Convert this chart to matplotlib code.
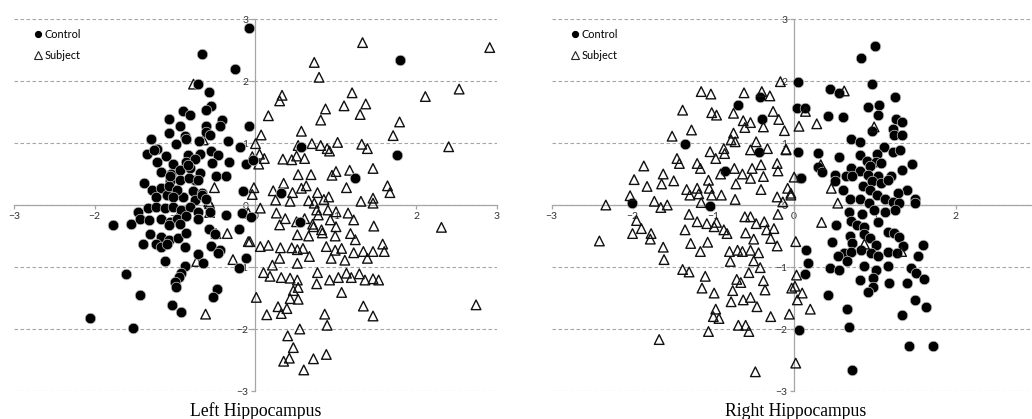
import numpy as np
import matplotlib
matplotlib.use("Agg")
import matplotlib.pyplot as plt
from matplotlib.lines import Line2D

# z-scores (x, y) per group, left hippocampus
left_control = np.array([
    (-0.08, 2.85), (-0.66, 2.43), (-0.25, 2.20), (-0.71, 1.96), (-0.58, 1.83), (-0.90, 1.52),
    (-0.81, 1.45), (-0.55, 1.60), (-0.62, 1.54), (-1.07, 1.38), (-0.42, 1.37), (-0.44, 1.27),
    (-0.08, 1.27), (-0.94, 1.27), (-0.62, 1.27), (-1.08, 1.16), (-0.61, 1.17), (-0.88, 1.11),
    (-0.56, 1.13), (-1.30, 1.06), (-0.99, 0.98), (-0.86, 1.06), (-0.70, 1.04), (-0.34, 1.04),
    (-0.19, 0.94), (-1.22, 0.91), (-1.35, 0.82), (-1.26, 0.89), (-1.11, 0.79), (-0.84, 0.81),
    (-0.69, 0.82), (-0.55, 0.87), (-0.46, 0.80), (-1.22, 0.70), (-1.02, 0.66), (-0.86, 0.70),
    (-0.75, 0.74), (-0.54, 0.67), (-0.33, 0.69), (-0.12, 0.66), (-0.03, 0.73), (-1.17, 0.54),
    (-1.05, 0.50), (-0.94, 0.56), (-0.81, 0.59), (-0.69, 0.51), (-0.49, 0.46), (-0.37, 0.47),
    (-1.38, 0.36), (-1.06, 0.38), (-0.94, 0.41), (-0.75, 0.40), (-1.29, 0.24), (-1.17, 0.27),
    (-1.02, 0.25), (-0.78, 0.22), (-0.67, 0.19), (-0.16, 0.22), (-1.23, 0.13), (-1.10, 0.16),
    (-0.90, 0.13), (-0.75, 0.08), (-1.08, 0.30), (-0.98, 0.24), (-0.67, 0.16), (-1.02, 0.13),
    (-1.06, 0.47), (-0.84, 0.65), (-0.82, 0.43), (-0.71, 0.41), (-0.62, 0.09),
    (-1.46, -0.11), (-1.33, -0.05), (-1.23, -0.03), (-1.13, -0.05), (-1.02, -0.03), (-0.92, -0.08),
    (-0.81, -0.03), (-0.71, -0.11), (-0.57, -0.12), (-0.37, -0.16), (-0.17, -0.13), (-0.05, -0.19),
    (-1.77, -0.32), (-1.55, -0.30), (-1.43, -0.22), (-1.32, -0.24), (-1.17, -0.22), (-1.06, -0.27),
    (-0.98, -0.22), (-0.86, -0.18), (-0.72, -0.22), (-1.08, -0.32), (-0.94, -0.30), (-0.58, -0.38),
    (-0.50, -0.46), (-0.21, -0.39), (-1.31, -0.47), (-1.18, -0.51), (-1.08, -0.56), (-0.96, -0.54),
    (-0.86, -0.45), (-1.40, -0.63), (-1.23, -0.63), (-1.17, -0.68), (-1.10, -0.63), (-0.88, -0.67),
    (-0.55, -0.66), (-0.44, -0.73), (-0.47, -0.77), (-0.71, -0.79), (-1.12, -0.90), (-0.65, -0.94),
    (-0.12, -0.86), (-0.21, -1.02), (-1.61, -1.11), (-0.88, -0.99), (-0.92, -1.10), (-0.95, -1.16),
    (-1.00, -1.24), (-0.99, -1.33), (-1.43, -1.45), (-0.48, -1.36), (-0.53, -1.48), (-1.04, -1.61),
    (-0.93, -1.73), (-2.06, -1.82), (-1.52, -1.98),
    (1.80, 2.34), (0.57, 0.94), (1.76, 0.81), (1.23, 0.43), (0.32, 0.20), (0.55, -0.28),
])

left_subject = np.array([
    (1.33, 2.62), (2.91, 2.54), (0.73, 2.30), (0.79, 2.06), (2.53, 1.87), (2.11, 1.75),
    (1.20, 1.81), (0.33, 1.77), (0.30, 1.68), (1.37, 1.63), (0.87, 1.55), (1.10, 1.60),
    (1.30, 1.46), (0.16, 1.44), (0.81, 1.37), (1.79, 1.34), (0.57, 1.19), (0.07, 1.13),
    (1.71, 1.12), (0.00, 0.99), (2.40, 0.94), (0.70, 0.99), (0.81, 0.96), (0.89, 0.91),
    (0.92, 0.87), (1.02, 1.01), (1.32, 0.98), (1.39, 0.91), (0.53, 0.96), (0.05, 0.82),
    (0.11, 0.75), (0.04, 0.66), (0.34, 0.74), (0.45, 0.73), (0.51, 0.79), (0.61, 0.75),
    (1.46, 0.59), (1.17, 0.56), (1.00, 0.54), (0.95, 0.48), (0.53, 0.49), (0.69, 0.49),
    (0.35, 0.35), (0.63, 0.31), (0.57, 0.27), (1.13, 0.28), (1.64, 0.31), (1.67, 0.20),
    (-0.02, 0.28), (-0.04, 0.17), (0.22, 0.23), (0.46, 0.20), (0.77, 0.20), (0.91, 0.13),
    (0.85, 0.09), (0.25, 0.08), (0.43, 0.06), (0.66, 0.07), (0.73, 0.03), (1.31, 0.06),
    (1.46, 0.11), (1.46, 0.03),
    (0.06, -0.05), (0.26, -0.13), (0.37, -0.22), (0.61, -0.22), (0.76, -0.08), (0.78, -0.16),
    (0.90, -0.08), (1.00, -0.11), (1.15, -0.13), (1.22, -0.24), (1.47, -0.34), (2.31, -0.36),
    (0.30, -0.32), (0.51, -0.27), (0.71, -0.31), (0.82, -0.40), (1.00, -0.35), (1.18, -0.46),
    (1.24, -0.56), (0.52, -0.48), (0.66, -0.50), (0.83, -0.45), (0.99, -0.50), (0.93, -0.24),
    (0.72, -0.35), (-0.07, -0.59), (0.06, -0.67), (0.16, -0.65), (0.31, -0.69), (0.45, -0.69),
    (0.52, -0.72), (0.59, -0.70), (0.67, -0.83), (0.88, -0.67), (0.99, -0.73), (1.07, -0.70),
    (0.94, -0.86), (1.11, -0.89), (1.22, -0.77), (1.34, -0.75), (1.39, -0.86), (1.46, -0.75),
    (1.58, -0.63), (1.60, -0.75), (0.30, -0.86), (0.21, -0.97), (0.52, -0.94), (0.10, -1.09),
    (0.18, -1.15), (0.32, -1.17), (0.43, -1.18), (0.52, -1.21), (0.77, -1.09), (0.76, -1.27),
    (0.92, -1.21), (1.03, -1.17), (1.13, -1.10), (1.19, -1.17), (1.29, -1.11), (1.36, -1.21),
    (1.46, -1.19), (1.53, -1.21), (1.07, -1.41), (0.47, -1.38), (0.53, -1.33), (0.43, -1.51),
    (0.53, -1.52), (0.01, -1.49), (0.28, -1.64), (0.39, -1.67), (0.14, -1.77), (0.32, -1.75),
    (0.86, -1.76), (0.89, -1.94), (1.34, -1.63), (1.46, -1.79), (2.74, -1.61), (0.55, -2.00),
    (0.40, -2.11), (0.47, -2.30), (0.35, -2.52), (0.42, -2.47), (0.72, -2.48), (0.88, -2.41),
    (0.60, -2.66),
    (-0.77, 1.95), (-0.65, 1.05), (-0.51, 0.28), (-0.04, 0.78), (-0.73, 0.16), (-0.58, 0.05),
    (-0.57, -0.12), (-0.49, -0.46), (-0.35, -0.46), (-0.09, -0.59), (-0.73, -0.91), (-0.28, -0.88),
    (-0.62, -1.76), (-0.09, -0.13), (-0.57, 0.02),
])

# z-scores (x, y) per group, right hippocampus
right_control = np.array([
    (0.05, 1.99), (-0.69, 1.62), (-0.42, 1.74), (0.04, 1.56), (-0.40, 1.38), (-1.35, 0.98),
    (-0.43, 0.86), (0.05, 0.86), (-0.85, 0.55), (0.07, 0.43), (-2.01, 0.03), (-1.04, -0.02),
    (0.06, -2.02),
    (1.00, 2.56), (0.83, 2.37), (0.96, 1.95), (0.44, 1.87), (0.55, 1.81), (1.25, 1.75),
    (0.14, 1.56), (0.92, 1.58), (1.05, 1.61), (1.04, 1.45), (0.42, 1.44), (0.61, 1.42),
    (1.26, 1.39), (1.33, 1.34), (0.96, 1.19), (1.22, 1.22), (1.23, 1.13), (1.33, 1.13),
    (0.71, 1.06), (0.82, 1.01), (1.11, 0.94), (0.30, 0.84), (0.55, 0.77), (0.82, 0.81),
    (1.03, 0.82), (1.22, 0.86), (1.31, 0.88), (0.90, 0.71), (1.01, 0.70), (1.07, 0.67),
    (1.46, 0.66), (0.30, 0.62), (0.34, 0.54), (0.71, 0.59), (0.82, 0.55), (0.94, 0.63),
    (1.33, 0.56), (0.09, 0.43), (0.50, 0.48), (0.64, 0.46), (0.72, 0.46), (0.92, 0.48),
    (1.04, 0.46), (1.20, 0.47), (0.50, 0.38), (0.60, 0.25), (0.85, 0.31), (0.96, 0.38),
    (1.07, 0.36), (1.16, 0.40), (1.40, 0.25), (1.28, 0.20), (0.94, 0.25), (0.69, 0.09),
    (0.82, 0.09), (0.93, 0.04), (1.03, 0.16), (1.12, 0.09), (1.22, 0.05), (1.30, 0.03),
    (1.49, 0.09), (1.49, 0.04),
    (0.68, -0.12), (0.84, -0.15), (0.99, -0.08), (1.12, -0.12), (1.25, -0.08), (0.52, -0.33),
    (0.70, -0.25), (0.78, -0.32), (0.87, -0.35), (1.04, -0.28), (1.16, -0.43), (1.24, -0.45),
    (1.30, -0.52), (0.69, -0.50), (0.87, -0.47), (0.94, -0.54), (0.47, -0.59), (0.72, -0.61),
    (1.01, -0.65), (1.35, -0.66), (1.59, -0.65), (0.15, -0.73), (0.62, -0.77), (0.70, -0.75),
    (0.83, -0.73), (0.95, -0.77), (1.04, -0.82), (1.16, -0.76), (1.27, -0.78), (1.53, -0.83),
    (0.54, -0.82), (0.65, -0.91), (0.17, -0.94), (0.45, -1.02), (0.56, -1.05), (0.87, -0.98),
    (1.01, -1.05), (1.16, -0.98), (1.45, -1.02), (1.51, -1.09), (1.61, -1.20), (0.14, -1.11),
    (0.82, -1.21), (0.97, -1.17), (0.97, -1.32), (0.92, -1.40), (1.18, -1.26), (1.40, -1.26),
    (0.42, -1.45), (0.66, -1.68), (1.49, -1.53), (1.63, -1.65), (1.33, -1.77), (0.68, -1.96),
    (0.72, -2.66), (1.42, -2.28), (1.72, -2.27),
])

right_subject = np.array([
    (-0.17, 1.99), (-1.15, 1.83), (-1.03, 1.79), (-0.62, 1.81), (-0.40, 1.83), (-0.30, 1.76),
    (-1.38, 1.53), (-1.02, 1.49), (-0.96, 1.45), (-0.75, 1.48), (-0.26, 1.51), (-0.63, 1.36),
    (-0.54, 1.33), (-0.61, 1.25), (-0.38, 1.26), (-0.19, 1.38), (-0.12, 1.20), (-1.27, 1.21),
    (-1.51, 1.11), (-0.75, 1.16), (-0.78, 1.05), (-0.73, 1.02), (-0.47, 1.02), (-0.87, 0.91),
    (-1.04, 0.86), (-0.86, 0.83), (-0.54, 0.89), (-0.33, 0.91), (-0.10, 0.89), (-1.45, 0.75),
    (-1.42, 0.67), (-1.86, 0.63), (-1.20, 0.67), (-1.16, 0.59), (-0.97, 0.75), (-0.74, 0.59),
    (-0.52, 0.59), (-0.41, 0.65), (-0.21, 0.67), (-0.20, 0.55), (-1.62, 0.50), (-1.98, 0.41),
    (-1.82, 0.30), (-1.64, 0.34), (-1.49, 0.39), (-0.91, 0.50), (-0.64, 0.50), (-0.54, 0.43),
    (-0.38, 0.46), (0.00, 0.45), (-0.72, 0.34), (-0.41, 0.25), (-0.08, 0.27), (-1.33, 0.25),
    (-1.20, 0.27), (-1.29, 0.16), (-1.18, 0.18), (-1.06, 0.40), (-1.05, 0.27), (-1.02, 0.16),
    (-0.90, 0.16), (-2.03, 0.15), (-1.73, 0.06), (-1.57, 0.00), (-1.65, -0.04), (-2.33, 0.00),
    (-1.15, 0.04), (-0.73, 0.09), (-0.21, 0.13), (-0.04, 0.16), (-0.14, 0.05), (-0.20, -0.15),
    (-1.95, -0.25), (-1.89, -0.38), (-2.00, -0.46), (-1.77, -0.46), (-1.78, -0.55), (-2.41, -0.58),
    (-1.62, -0.68), (-1.61, -0.88), (-1.30, -0.15), (-1.20, -0.27), (-1.35, -0.40), (-1.28, -0.62),
    (-1.07, -0.60), (-1.16, -0.75), (-1.08, -0.30), (-0.96, -0.28), (-0.87, -0.40), (-0.83, -0.46),
    (-0.99, -0.35), (-0.61, -0.19), (-0.54, -0.19), (-0.47, -0.30), (-0.60, -0.45), (-0.50, -0.55),
    (-0.37, -0.27), (-0.34, -0.40), (-0.25, -0.38), (-0.29, -0.54), (-0.21, -0.66), (0.02, -0.59),
    (-0.80, -0.75), (-0.70, -0.73), (-0.64, -0.75), (-0.54, -0.73), (-0.44, -0.77), (-0.79, -0.91),
    (-0.50, -0.90), (-0.42, -1.01), (-1.38, -1.04), (-1.30, -1.08), (-1.10, -1.15), (-0.56, -1.09),
    (-1.14, -1.34), (-0.99, -1.42), (-0.71, -1.20), (-0.66, -1.25), (-0.38, -1.22), (-0.36, -1.37),
    (-0.76, -1.38), (-0.78, -1.56), (-0.63, -1.53), (-0.54, -1.49), (-0.46, -1.64), (-0.97, -1.68),
    (-1.00, -1.80), (-0.93, -1.83), (-0.29, -1.80), (-0.06, -1.76), (-0.03, -1.34), (0.04, -1.53),
    (-0.69, -1.94), (-0.60, -1.94), (-0.56, -2.04), (-1.06, -2.04), (-1.67, -2.17), (-0.48, -2.69),
    (0.62, 1.84), (0.14, 1.51), (0.06, 1.27), (0.28, 1.31), (-0.10, 0.90), (0.99, 1.26),
    (0.33, 0.65), (-0.04, 0.19), (0.46, 0.27), (0.54, 0.03), (0.34, -0.28), (0.87, -0.63),
    (1.33, -0.75), (0.03, -1.13), (0.01, -1.31), (0.10, -1.42), (0.20, -1.68), (0.02, -2.55),
])

ticks = [-3, -2, -1, 0, 1, 2, 3]
grey = '#a6a6a6'
tick_font = 'Lato'

fig = plt.figure(figsize=(10.32, 4.19), dpi=100)
ax_l = fig.add_axes([0.01357, 0.0668, 0.468, 0.8878])
ax_r = fig.add_axes([0.5346, 0.0668, 0.4698, 0.8878])


def style_axes(ax, xticks):
    ax.set_xlim(-3, 3)
    ax.set_ylim(-3, 3)
    ax.spines['top'].set_visible(False)
    ax.spines['right'].set_visible(False)
    ax.spines['left'].set_position(('data', 0))
    ax.spines['bottom'].set_position(('data', 0))
    for s in ('left', 'bottom'):
        ax.spines[s].set_color(grey)
        ax.spines[s].set_linewidth(0.9)
    ax.set_xticks(xticks)
    ax.set_yticks(ticks)
    ax.tick_params(length=3, width=0.9, color=grey, labelsize=7.5,
                   labelcolor='#333333', pad=2)
    for lab in ax.get_xticklabels() + ax.get_yticklabels():
        lab.set_fontfamily(tick_font)
    ax.yaxis.grid(True, color=grey, linestyle=(0, (3.2, 2.2)), linewidth=0.8)
    ax.patch.set_alpha(0)


def draw_groups(ax, control, subject, subject_on_top):
    z_c, z_s = (3, 4) if subject_on_top else (4, 3)
    ax.scatter(control[:, 0], control[:, 1], s=58, c='black',
               edgecolors='#c8c8c8', linewidths=0.5, zorder=z_c)
    ax.scatter(subject[:, 0], subject[:, 1], s=48, marker='^', facecolors='none',
               edgecolors='#111111', linewidths=1.0, zorder=z_s)
    handles = [
        Line2D([], [], marker='o', ls='none', color='black', markersize=4.2),
        Line2D([], [], marker='^', ls='none', markerfacecolor='none',
               markeredgecolor='#222222', markeredgewidth=0.8, markersize=6),
    ]
    ax.legend(handles, ['Control', 'Subject'], loc='upper left',
              bbox_to_anchor=(0.041, 0.974), frameon=False, borderpad=0,
              borderaxespad=0, handlelength=0.7, handletextpad=0.25,
              labelspacing=0.95, prop={'family': tick_font, 'size': 7.8})


style_axes(ax_l, ticks)
# the right panel runs past the figure edge, so its x = 3 label is left out
style_axes(ax_r, ticks[:-1])
draw_groups(ax_l, left_control, left_subject, subject_on_top=False)
draw_groups(ax_r, right_control, right_subject, subject_on_top=True)

fig.text(256 / 1032, 1 - 411 / 419, 'Left Hippocampus', ha='center', va='center',
         family='Liberation Serif', fontsize=12.7)
fig.text(796 / 1032, 1 - 411 / 419, 'Right Hippocampus', ha='center', va='center',
         family='Liberation Serif', fontsize=12.7)

fig.savefig('out.png', dpi=100)
